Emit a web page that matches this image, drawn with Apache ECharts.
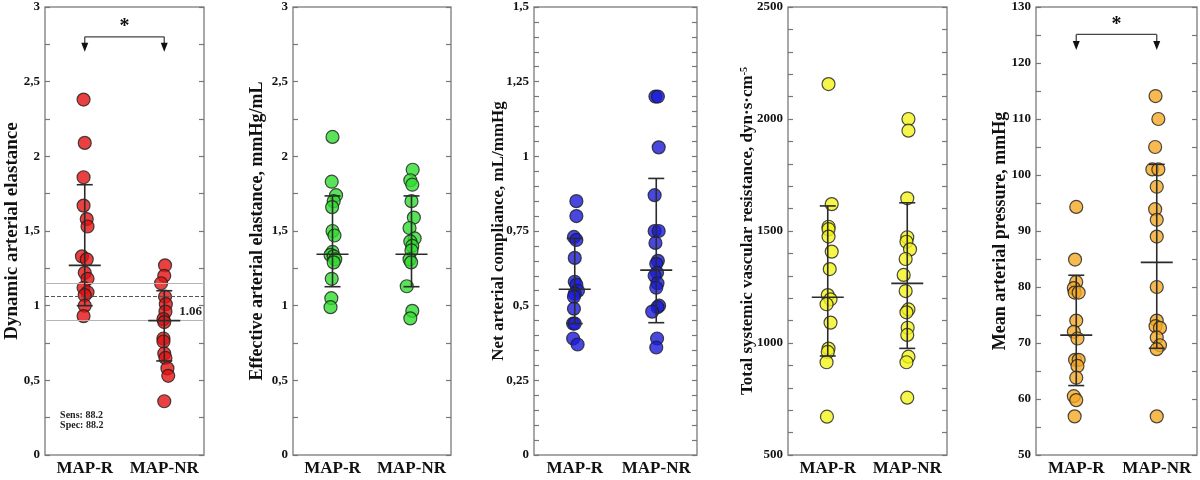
<!DOCTYPE html>
<html>
<head>
<meta charset="utf-8">
<script src="https://cdn.jsdelivr.net/npm/echarts@6/dist/echarts.min.js"></script>
<style>
html,body{margin:0;padding:0;background:#fff;}
#chart{width:1200px;height:480px;}
</style>
</head>
<body>
<div id="chart"></div>
<script>
// ---------- DATA ----------
const categories = ['MAP-R', 'MAP-NR'];
const categoryX = [1, 3];

// Panel 1: Dynamic arterial elastance
const daeR = [2.38, 2.09, 1.86, 1.67, 1.58, 1.53, 1.33, 1.31, 1.22, 1.18, 1.12, 1.09, 1.07, 1.00, 0.93];
const daeRJit = [-0.03, 0, -0.03, -0.03, 0.05, 0.07, -0.07, 0.05, 0, 0.07, -0.03, 0.07, 0, 0, -0.03];
const daeNR = [1.27, 1.20, 1.15, 1.06, 1.01, 0.96, 0.91, 0.89, 0.78, 0.76, 0.68, 0.65, 0.58, 0.53, 0.36];
const daeNRJit = [0.02, 0, -0.08, 0.02, 0.04, 0.03, -0.02, 0, -0.02, -0.02, 0, 0.03, 0.08, 0.1, 0];
const daeMean = [1.27, 0.90];
const daeLow = [1.00, 0.63];
const daeHigh = [1.81, 1.10];
const daeTicks = ['0', '0,5', '1', '1,5', '2', '2,5', '3'];
const daeThresholds = [1.15, 1.06, 0.90];
const daeCutoffLabel = '1.06';
const daeSensSpec = ['Sens: 88.2', 'Spec: 88.2'];
const daeSensSpecY = [0.268, 0.20];
const daeBracket = [2.80, 2.70, 2.87]; // line level, arrow tip, star level

// Panel 2: Effective arterial elastance
const eaeR = [2.13, 1.83, 1.74, 1.70, 1.66, 1.50, 1.47, 1.36, 1.34, 1.33, 1.31, 1.29, 1.18, 1.05, 0.99];
const eaeRJit = [0, -0.02, 0.09, 0.03, -0.01, 0, 0.05, 0, -0.05, 0.03, 0.07, 0.03, -0.02, -0.03, -0.05];
const eaeNR = [1.91, 1.84, 1.81, 1.70, 1.59, 1.52, 1.45, 1.43, 1.40, 1.37, 1.31, 1.29, 1.13, 0.965, 0.915];
const eaeNRJit = [0.03, -0.03, 0.02, 0, 0.06, -0.05, 0.08, -0.03, 0.02, 0, -0.05, -0.01, -0.12, 0.02, -0.03];
const eaeMean = [1.344, 1.344];
const eaeLow = [1.127, 1.127];
const eaeHigh = [1.735, 1.735];
const eaeTicks = ['0', '0,5', '1', '1,5', '2', '2,5', '3'];

// Panel 3: Net arterial compliance
const nacR = [0.85, 0.80, 0.73, 0.72, 0.66, 0.58, 0.57, 0.55, 0.54, 0.53, 0.49, 0.44, 0.44, 0.39, 0.37];
const nacRJit = [0.04, 0.04, -0.02, 0.04, 0, 0, 0.04, 0.08, 0, -0.02, -0.02, -0.04, 0, -0.04, 0.07];
const nacNR = [1.20, 1.20, 1.03, 0.87, 0.75, 0.75, 0.71, 0.65, 0.64, 0.61, 0.60, 0.575, 0.56, 0.50, 0.495, 0.48, 0.39, 0.36];
const nacNRJit = [-0.02, 0.04, 0.06, -0.04, -0.04, 0.06, -0.02, 0.04, 0, 0.02, -0.04, 0.03, 0, 0.07, 0.03, -0.1, 0.02, 0];
const nacMean = [0.555, 0.619];
const nacLow = [0.44, 0.443];
const nacHigh = [0.725, 0.926];
const nacTicks = ['0', '0,25', '0,5', '0,75', '1', '1,25', '1,5'];

// Panel 4: Total systemic vascular resistance
const tsvrR = [2156, 1620, 1519, 1508, 1475, 1408, 1330, 1214, 1195, 1173, 1091, 975, 960, 914, 671];
const tsvrRJit = [0.02, 0.1, 0.02, 0.02, 0.02, 0.1, 0.05, 0, 0.07, -0.03, 0.07, 0.02, 0, -0.03, -0.02];
const tsvrNR = [2000, 1948, 1646, 1472, 1452, 1418, 1375, 1304, 1232, 1150, 1137, 1068, 1036, 939, 914, 756];
const tsvrNRJit = [0.03, 0.03, 0, 0, -0.02, 0.07, -0.04, -0.09, -0.04, 0.03, -0.02, 0.01, 0, 0.03, -0.02, 0];
const tsvrMean = [1204, 1266];
const tsvrLow = [942, 976];
const tsvrHigh = [1612, 1626];
const tsvrTicks = ['500', '1000', '1500', '2000', '2500'];

// Panel 5: Mean arterial pressure
const mapR = [94.3, 84.9, 80.9, 79.8, 79.0, 79.0, 74.0, 72.0, 70.8, 67.0, 67.0, 65.9, 63.8, 60.5, 59.8, 56.9];
const mapRJit = [0, -0.03, 0, -0.06, -0.04, 0.06, 0, -0.06, 0.03, -0.03, 0.06, 0.03, 0, -0.06, 0, -0.04];
const mapNR = [114.1, 110, 105, 101, 101, 97.9, 93.9, 92.0, 89, 80, 74, 73, 72.7, 71, 69.6, 68.9, 56.9];
const mapNRJit = [-0.03, 0.04, -0.04, -0.11, 0.04, 0, -0.04, 0, 0, 0, 0, -0.03, 0.08, 0, 0.08, 0, 0];
const mapMean = [71.4, 84.4];
const mapLow = [62.4, 69.05];
const mapHigh = [82.1, 101.9];
const mapTicks = ['50', '60', '70', '80', '90', '100', '110', '120', '130'];
const mapBracket = [125.1, 122.3, 126.8];

// ---------- LAYOUT / STYLE ----------
const FONT = '"Liberation Serif", "Times New Roman", serif';
const panels = [
  {left: 45, width: 159, min: 0, max: 3, interval: 0.5, minor: 2, ticks: daeTicks,
   name: 'Dynamic arterial elastance', gap: 23, nameSize: 19, color: '#e41212',
   R: daeR, RJ: daeRJit, NR: daeNR, NRJ: daeNRJit, mean: daeMean, lo: daeLow, hi: daeHigh, bracket: daeBracket},
  {left: 293, width: 158, min: 0, max: 3, interval: 0.5, minor: 2, ticks: eaeTicks,
   name: 'Effective arterial elastance, mmHg/mL', gap: 27, nameSize: 18, color: '#2edc2e',
   R: eaeR, RJ: eaeRJit, NR: eaeNR, NRJ: eaeNRJit, mean: eaeMean, lo: eaeLow, hi: eaeHigh},
  {left: 534, width: 163, min: 0, max: 1.5, interval: 0.25, minor: 5, ticks: nacTicks,
   name: 'Net arterial compliance, mL/mmHg', gap: 27, nameSize: 17, color: '#1a1ad8',
   R: nacR, RJ: nacRJit, NR: nacNR, NRJ: nacNRJit, mean: nacMean, lo: nacLow, hi: nacHigh},
  {left: 788, width: 159, min: 500, max: 2500, interval: 500, minor: 5, ticks: tsvrTicks,
   name: 'Total systemic vascular resistance, dyn·s·cm{sup|-5}', gap: 32, nameSize: 17, color: '#f4f21c',
   R: tsvrR, RJ: tsvrRJit, NR: tsvrNR, NRJ: tsvrNRJit, mean: tsvrMean, lo: tsvrLow, hi: tsvrHigh},
  {left: 1036, width: 161, min: 50, max: 130, interval: 10, minor: 2, ticks: mapTicks,
   name: 'Mean arterial pressure, mmHg', gap: 27, nameSize: 18, color: '#f4a926',
   R: mapR, RJ: mapRJit, NR: mapNR, NRJ: mapNRJit, mean: mapMean, lo: mapLow, hi: mapHigh, bracket: mapBracket}
];

const grids = [], xAxes = [], yAxes = [], series = [];
const barColor = '#2b2b2b';

panels.forEach((p, i) => {
  grids.push({left: p.left, width: p.width, top: 7, height: 448, show: true,
    borderColor: '#8c8c8c', borderWidth: 1.5, backgroundColor: 'transparent'});
  xAxes.push({type: 'value', gridIndex: i, min: 0, max: 4, interval: 1,
    axisLine: {show: false}, axisTick: {show: false}, splitLine: {show: false},
    axisLabel: {margin: 5, color: '#111', fontFamily: FONT, fontWeight: 'bold', fontSize: 17,
      formatter: v => v === categoryX[0] ? categories[0] : (v === categoryX[1] ? categories[1] : '')}});
  const tickCommon = {
    type: 'value', gridIndex: i, min: p.min, max: p.max, interval: p.interval,
    axisLine: {show: false}, splitLine: {show: false},
    axisTick: {show: true, inside: true, length: 5, lineStyle: {color: '#777', width: 1.2}},
    minorTick: {show: true, splitNumber: p.minor, length: 5, lineStyle: {color: '#777', width: 1.2}},
    minorSplitLine: {show: false}
  };
  yAxes.push(Object.assign({}, tickCommon, {
    position: 'left',
    name: p.name, nameLocation: 'middle', nameGap: p.gap, nameMoveOverlap: false,
    nameTextStyle: {fontFamily: FONT, fontWeight: 'bold', fontSize: p.nameSize, color: '#111',
      rich: {sup: {fontFamily: FONT, fontWeight: 'bold', fontSize: 10, verticalAlign: 'top', color: '#111'}}},
    axisLabel: {margin: 5, color: '#111', fontFamily: FONT, fontWeight: 'bold', fontSize: 13,
      formatter: v => p.ticks[Math.round((v - p.min) / p.interval)]}
  }));
  yAxes.push(Object.assign({}, tickCommon, {position: 'right', axisLabel: {show: false}}));
  const yLeft = yAxes.length - 2;

  const scatterStyle = {color: p.color, borderColor: '#1e1e1e', borderWidth: 1.2};
  series.push({type: 'scatter', xAxisIndex: i, yAxisIndex: yLeft, symbolSize: 13, z: 3,
    itemStyle: scatterStyle, data: p.R.map((v, k) => [categoryX[0] + p.RJ[k], v])});
  series.push({type: 'scatter', xAxisIndex: i, yAxisIndex: yLeft, symbolSize: 13, z: 3,
    itemStyle: scatterStyle, data: p.NR.map((v, k) => [categoryX[1] + p.NRJ[k], v])});

  // mean & SD bars
  series.push({type: 'custom', xAxisIndex: i, yAxisIndex: yLeft, z: 5,
    data: categoryX.map((x, k) => [x, p.mean[k], p.lo[k], p.hi[k]]),
    renderItem: (params, api) => {
      const c = api.coord([api.value(0), api.value(1)]);
      const lo = api.coord([api.value(0), api.value(2)]);
      const hi = api.coord([api.value(0), api.value(3)]);
      const st = {stroke: barColor, lineWidth: 1.6};
      return {type: 'group', children: [
        {type: 'line', shape: {x1: c[0], y1: lo[1], x2: c[0], y2: hi[1]}, style: st},
        {type: 'line', shape: {x1: c[0] - 8, y1: lo[1], x2: c[0] + 8, y2: lo[1]}, style: st},
        {type: 'line', shape: {x1: c[0] - 8, y1: hi[1], x2: c[0] + 8, y2: hi[1]}, style: st},
        {type: 'line', shape: {x1: c[0] - 16, y1: c[1], x2: c[0] + 16, y2: c[1]}, style: st}
      ]};
    }});

  // significance bracket
  if (p.bracket) {
    const b = p.bracket;
    series.push({type: 'custom', xAxisIndex: i, yAxisIndex: yLeft, z: 5,
      data: [[categoryX[0], categoryX[1], b[0], b[1], b[2]]],
      renderItem: (params, api) => {
        const a = api.coord([api.value(0), api.value(2)]);
        const bb = api.coord([api.value(1), api.value(2)]);
        const tip = api.coord([api.value(0), api.value(3)]);
        const star = api.coord([(api.value(0) + api.value(1)) / 2, api.value(4)]);
        const st = {stroke: '#444', lineWidth: 1.3};
        const head = (x) => ({type: 'polygon', shape: {points: [[x - 3.5, tip[1] - 9], [x + 3.5, tip[1] - 9], [x, tip[1]]]}, style: {fill: '#111'}});
        return {type: 'group', children: [
          {type: 'line', shape: {x1: a[0], y1: a[1], x2: bb[0], y2: a[1]}, style: st},
          {type: 'line', shape: {x1: a[0], y1: a[1], x2: a[0], y2: tip[1] - 6}, style: st},
          {type: 'line', shape: {x1: bb[0], y1: a[1], x2: bb[0], y2: tip[1] - 6}, style: st},
          head(a[0]), head(bb[0]),
          {type: 'text', style: {text: '*', x: star[0], y: star[1], fill: '#111',
            font: 'bold 20px ' + FONT, align: 'center', verticalAlign: 'middle'}}
        ]};
      }});
  }

  // panel 1 extras
  if (i === 0) {
    series.push({type: 'scatter', xAxisIndex: i, yAxisIndex: yLeft, data: [], z: 1,
      markLine: {silent: true, symbol: 'none', animation: false,
        data: daeThresholds.map((v, k) => ({
          yAxis: v,
          lineStyle: k === 1 ? {color: '#555', type: [4, 2], width: 1.2} : {color: '#b5b5b5', type: 'solid', width: 1.2},
          label: k === 1 ? {show: true, formatter: daeCutoffLabel, position: 'insideEndBottom', distance: [2, 8],
            color: '#222', fontFamily: FONT, fontWeight: 'bold', fontSize: 13} : {show: false}
        }))}});
    series.push({type: 'custom', xAxisIndex: i, yAxisIndex: yLeft, z: 4,
      data: daeSensSpecY.map(y => [0.38, y]),
      renderItem: (params, api) => {
        const c = api.coord([api.value(0), api.value(1)]);
        return {type: 'text', style: {text: daeSensSpec[params.dataIndex], x: c[0], y: c[1], fill: '#222',
          font: 'bold 10px ' + FONT, align: 'left', verticalAlign: 'middle'}};
      }});
  }
});

const chart = echarts.init(document.getElementById('chart'), null, {renderer: 'canvas'});
chart.setOption({animation: false, backgroundColor: '#fff', grid: grids, xAxis: xAxes, yAxis: yAxes, series: series});
</script>
</body>
</html>
